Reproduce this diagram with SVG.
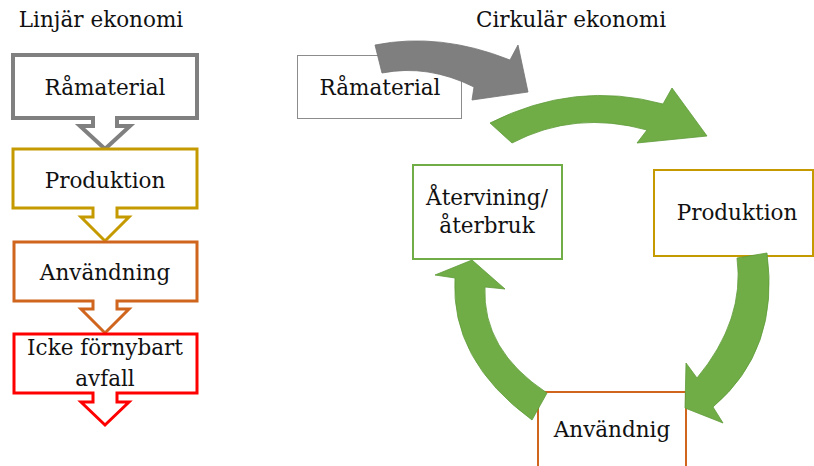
<svg xmlns="http://www.w3.org/2000/svg" width="814" height="466" viewBox="0 0 814 466">
<style>
text{font-family:"DejaVu Serif","Liberation Serif",serif;font-size:21.5px;fill:#111;text-anchor:middle}
.box{fill:#fff}
.green{fill:#70AD47;stroke:#5E9A38;stroke-width:0.8;stroke-linejoin:round}
.gray{fill:#7F7F7F;stroke:#737373;stroke-width:0.8}
</style>
<rect width="814" height="466" fill="#fff"/>
<text x="101" y="27">Linjär ekonomi</text>
<text x="571" y="27">Cirkulär ekonomi</text>

<g id="lin-ramaterial">
<path class="box" d="M13,55 H197 V118 H117 V126 H130 L105,149 L80,126 H93 V118 H13 Z" stroke="#808080" stroke-width="4"/>
<text x="105" y="95">Råmaterial</text>
</g>
<g id="lin-produktion">
<path class="box" d="M13,149 H197 V208 H117 V217 H129 L105,241 L81,217 H93 V208 H13 Z" stroke="#C49A00" stroke-width="3"/>
<text x="105" y="188">Produktion</text>
</g>
<g id="lin-anvandning">
<path class="box" d="M14,242 H197 V301 H117 V309 H129 L105,333 L81,309 H93 V301 H14 Z" stroke="#D0651E" stroke-width="3"/>
<text x="105" y="280">Användning</text>
</g>
<g id="lin-avfall">
<path class="box" d="M14,334 H197 V393 H117 V402 H129 L105,425 L81,402 H93 V393 H14 Z" stroke="#FF0000" stroke-width="3"/>
<text x="105" y="355">Icke förnybart</text>
<text x="105" y="386">avfall</text>
</g>

<g id="cir-ramaterial">
<rect class="box" x="297.5" y="55.5" width="164" height="63" stroke="#8C8C8C" stroke-width="1"/>
<text x="380" y="95">Råmaterial</text>
</g>
<g id="cir-atervinning">
<rect class="box" x="413" y="165" width="149" height="94" stroke="#70AD47" stroke-width="2"/>
<text x="487" y="205">Återvining/</text>
<text x="487" y="233">återbruk</text>
</g>
<g id="cir-produktion">
<rect class="box" x="654" y="170" width="159" height="86" stroke="#C49A00" stroke-width="2"/>
<text x="737" y="220">Produktion</text>
</g>
<g id="cir-anvandnig">
<rect class="box" x="538" y="392" width="148" height="80" stroke="#D0651E" stroke-width="2"/>
<text x="612" y="437">Användnig</text>
</g>

<g id="connectors">
<path class="gray" d="M375,45 Q440,32 510,60 L518,45 L528,92 L472,100 L474,87 Q428,64 382,73 Z"/>
<path class="green" d="M490,123 Q575,80 663,104 L672,88 L707,136 L637,143 L647,130 Q575,110 512,143 Z"/>
<path class="green" d="M737,258 L767,253 Q780,350 713,407 L723,423 L685,408 L686,363 L697,378 Q745,320 737,258 Z"/>
<path class="green" d="M472,260 L505,289 L485,287 Q482,350 547,393 L532,420 Q450,360 455,278 L435,275 Z"/>
</g>
</svg>
